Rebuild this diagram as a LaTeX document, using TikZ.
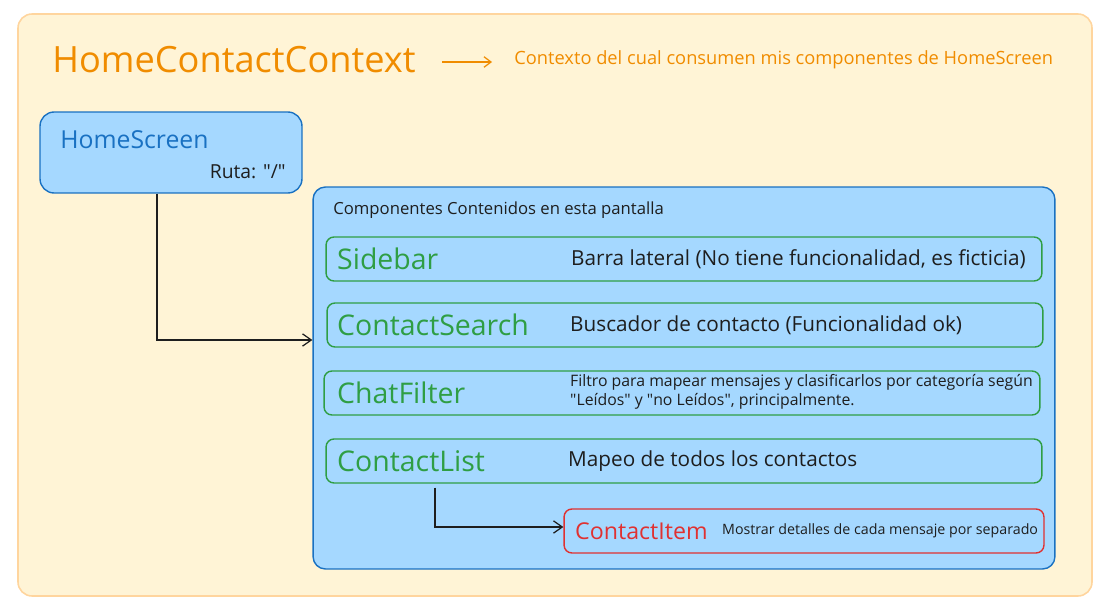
\documentclass[tikz,border=0pt]{standalone}
\usepackage{fontspec}
\setmainfont{Open Sans}
\usepackage{tikz}
\usetikzlibrary{arrows.meta}

\definecolor{cream}{HTML}{FFF4D6}
\definecolor{creamline}{HTML}{FFD59E}
\definecolor{skyfill}{HTML}{A5D8FF}
\definecolor{skyline}{HTML}{1971C2}
\definecolor{leaf}{HTML}{2F9E44}
\definecolor{ruby}{HTML}{E03131}
\definecolor{amber}{HTML}{F08C00}
\definecolor{ink}{HTML}{1E1E1E}

\begin{document}
\begin{tikzpicture}[x=0.02cm,y=-0.02cm,
  bluebox/.style={draw=skyline,fill=skyfill,line width=0.8pt},
  rowbox/.style={draw=leaf,line width=0.8pt,rounded corners=4.5pt,minimum width=14.32cm,minimum height=0.88cm},
  comp/.style={anchor=west,text=leaf,font=\fontsize{16.2}{19}\selectfont},
  desc/.style={anchor=west,text=ink,font=\fontsize{11.8}{14}\selectfont},
  link/.style={ink,line width=0.7pt,-{Straight Barb[length=5pt,width=7pt]}}]
\useasboundingbox (0,0) rectangle (1112,611);
\draw[fill=cream,draw=creamline,line width=0.9pt,rounded corners=8pt] (18,14) rectangle (1092,596);

\node[anchor=west,text=amber,font=\fontsize{20.6}{24}\selectfont,inner sep=0pt] (title) at (52,60) {HomeContactContext};
\node[anchor=west,text=amber,font=\fontsize{10.4}{13}\selectfont,inner sep=0pt] (ctx) at (514,60) {Contexto del cual consumen mis componentes de HomeScreen};
\draw[amber,line width=0.7pt,-{Straight Barb[length=4pt,width=6pt]}] ([xshift=0.52cm,yshift=-0.04cm]title.east) -- ([xshift=-0.44cm,yshift=-0.04cm]ctx.west);

\node[bluebox,rounded corners=8pt,minimum width=5.24cm,minimum height=1.62cm] (home) at (171,152.5) {};
\node[anchor=west,text=skyline,font=\fontsize{14.1}{17}\selectfont,inner sep=0pt] (homelbl) at (60,140) {HomeScreen};
\node[anchor=east,text=ink,font=\fontsize{11}{13}\selectfont,inner sep=0pt] (ruta) at (286,172) {Ruta: \textquotedbl/\textquotedbl};

\node[bluebox,rounded corners=7pt,minimum width=14.84cm,minimum height=7.64cm] (screen) at (684,378) {};
\node[anchor=west,text=ink,font=\fontsize{9.5}{11}\selectfont,inner sep=0pt] (head) at (333,210) {Componentes Contenidos en esta pantalla};

\node[rowbox] (sidebar) at (684,259) {};
\node[comp] (sidebarlbl) at (331,259) {Sidebar};
\node[desc] (sidebardsc) at (565,259) {Barra lateral (No tiene funcionalidad, es ficticia)};

\node[rowbox] (search) at (685,325) {};
\node[comp] (searchlbl) at (331,325) {ContactSearch};
\node[desc] (searchdsc) at (564,325) {Buscador de contacto (Funcionalidad ok)};

\node[rowbox] (filter) at (682,393) {};
\node[comp] (filterlbl) at (331,393) {ChatFilter};
\node[desc,font=\fontsize{9}{10.8}\selectfont,align=left] (filterdsc) at (564,392) {Filtro para mapear mensajes y clasificarlos por categoría según\\\textquotedbl Leídos\textquotedbl{} y \textquotedbl no Leídos\textquotedbl, principalmente.};

\node[rowbox] (list) at (684,461) {};
\node[comp] (listlbl) at (331,461) {ContactList};
\node[desc] (listdsc) at (562,461) {Mapeo de todos los contactos};

\node[rowbox,draw=ruby,minimum width=9.6cm] (item) at (804,531) {};
\node[comp,text=ruby,font=\fontsize{13.2}{15}\selectfont] (itemlbl) at (569,531) {ContactItem};
\node[desc,font=\fontsize{8.1}{10}\selectfont] (itemdsc) at (716,531) {Mostrar detalles de cada mensaje por separado};

\draw[link] ([xshift=-0.28cm]home.south) |- ([yshift=0.76cm]screen.west);
\draw[link] ([xshift=-4.98cm,yshift=-0.08cm]list.south) |- ([yshift=0.08cm]item.west);
\end{tikzpicture}
\end{document}
